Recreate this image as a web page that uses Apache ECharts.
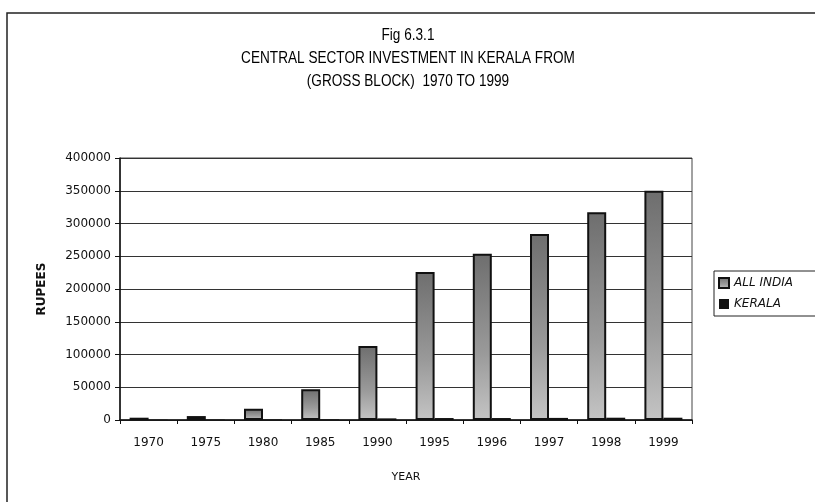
<!DOCTYPE html>
<html>
<head>
<meta charset="utf-8">
<script src="https://cdn.jsdelivr.net/npm/echarts@6/dist/echarts.min.js"></script>
<style>
  html, body { margin: 0; padding: 0; background: #fff; }
  #chart { width: 815px; height: 502px; }
</style>
</head>
<body>
<div id="chart"></div>
<script>
// data
var titleLines = ['Fig 6.3.1', 'CENTRAL SECTOR INVESTMENT IN KERALA FROM', '(GROSS BLOCK)  1970 TO 1999'];
var years = ['1970', '1975', '1980', '1985', '1990', '1995', '1996', '1997', '1998', '1999'];
var allIndia = [3500, 6000, 17000, 47000, 113000, 226000, 254000, 284000, 317000, 350000];
var kerala = [500, 600, 800, 1000, 2500, 3000, 3000, 3200, 3500, 3500];
var yTicks = { min: 0, max: 400000, step: 50000 };

var chart = echarts.init(document.getElementById('chart'));

// title lines drawn as narrow text (the scan uses a condensed face)
var titleGraphics = titleLines.map(function (line, i) {
    return {
        type: 'text',
        x: 408,
        y: 35 + i * 23,
        scaleX: 0.8,
        silent: true,
        style: {
            text: line,
            x: 0,
            y: 0,
            align: 'center',
            verticalAlign: 'middle',
            fill: '#000',
            font: '17px "Liberation Sans", Arial, sans-serif'
        }
    };
});

var option = {
    backgroundColor: '#fff',
    animation: false,
    graphic: [{
        // scanned page frame
        type: 'rect',
        shape: { x: 7, y: 13, width: 900, height: 600 },
        style: { fill: 'none', stroke: '#222', lineWidth: 1.5 },
        silent: true
    }].concat(titleGraphics),
    legend: {
        orient: 'vertical',
        left: 714,
        top: 271,
        itemWidth: 10,
        itemHeight: 10,
        itemGap: 9,
        padding: [6, 40, 6, 4],
        borderColor: '#222',
        borderWidth: 1,
        icon: 'rect',
        textStyle: {
            fontFamily: 'DejaVu Sans, sans-serif',
            fontStyle: 'italic',
            fontSize: 12,
            color: '#111'
        },
        data: ['ALL INDIA', 'KERALA']
    },
    grid: {
        left: 120,
        right: 123,
        top: 158,
        bottom: 82,
        show: true,
        borderColor: '#444',
        borderWidth: 1
    },
    xAxis: {
        type: 'category',
        data: years,
        name: 'YEAR',
        nameLocation: 'middle',
        nameGap: 52,
        nameTextStyle: { fontFamily: 'DejaVu Sans, sans-serif', fontSize: 11, color: '#111' },
        axisLine: { lineStyle: { color: '#111', width: 1.5 } },
        axisTick: { show: true, length: 4, lineStyle: { color: '#111' } },
        axisLabel: {
            margin: 17,
            fontFamily: 'DejaVu Sans, sans-serif',
            fontSize: 12,
            color: '#111'
        }
    },
    yAxis: {
        type: 'value',
        min: yTicks.min,
        max: yTicks.max,
        interval: yTicks.step,
        name: 'RUPEES',
        nameLocation: 'middle',
        nameRotate: 90,
        nameGap: 72,
        nameTextStyle: { fontFamily: 'DejaVu Sans, sans-serif', fontSize: 12, fontWeight: 'bold', color: '#111' },
        axisLine: { show: true, lineStyle: { color: '#111', width: 1.5 } },
        axisTick: { show: true, length: 5, inside: false, lineStyle: { color: '#111' } },
        axisLabel: {
            margin: 9,
            fontFamily: 'DejaVu Sans, sans-serif',
            fontSize: 12,
            color: '#111',
            formatter: function (v) { return String(v); }
        },
        splitLine: { lineStyle: { color: '#333', width: 1 } }
    },
    series: [{
        name: 'ALL INDIA',
        type: 'bar',
        data: allIndia,
        barWidth: 19,
        barGap: '0%',
        itemStyle: {
            color: new echarts.graphic.LinearGradient(0, 0, 0, 1, [
                { offset: 0, color: '#6e6e6e' },
                { offset: 0.6, color: '#9a9a9a' },
                { offset: 1, color: '#c4c4c4' }
            ]),
            borderColor: '#111',
            borderWidth: 2
        }
    }, {
        name: 'KERALA',
        type: 'bar',
        data: kerala,
        barWidth: 19,
        itemStyle: { color: '#111' }
    }]
};

chart.setOption(option);
</script>
</body>
</html>
